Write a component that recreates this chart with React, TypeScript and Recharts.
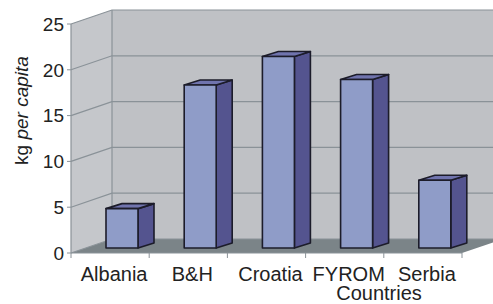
import React from 'react';
import { BarChart, Bar, XAxis, YAxis, CartesianGrid } from 'recharts';

// Data
const countries = ['Albania', 'B&H', 'Croatia', 'FYROM', 'Serbia'];
const kgPerCapita = [4.3, 17.8, 20.9, 18.4, 7.4];
const yTicks = [0, 5, 10, 15, 20, 25];

const data = countries.map((name, i) => ({ name, value: kgPerCapita[i] }));

// Layout
const WIDTH = 493;
const HEIGHT = 304;
const LEFT = 71;
const TOP = 24;
const RIGHT = 462;
const BOTTOM = 253;
const DEPTH_X = 41;
const DEPTH_Y = 14;
const BAR_SHIFT_X = 12;
const BAR_SHIFT_Y = 5;
const BAR_DEPTH_X = 16;
const BAR_DEPTH_Y = 5;

const GRID = '#8a9298';
const TEXT = '#222';
const FONT = '"Liberation Sans", Arial, sans-serif';

const band = (RIGHT - LEFT) / countries.length;

// walls and floor behind the bars
const Walls = () => (
  <g>
    <polygon
      points={`${LEFT},${TOP} ${LEFT + DEPTH_X},${TOP - DEPTH_Y} ${LEFT + DEPTH_X},${BOTTOM - DEPTH_Y} ${LEFT},${BOTTOM}`}
      fill="#c5c7cb"
    />
    <rect
      x={LEFT + DEPTH_X}
      y={TOP - DEPTH_Y}
      width={RIGHT - LEFT}
      height={BOTTOM - TOP}
      fill="#bfc1c5"
    />
    <polygon
      points={`${LEFT},${BOTTOM} ${LEFT + DEPTH_X},${BOTTOM - DEPTH_Y} ${RIGHT + DEPTH_X},${BOTTOM - DEPTH_Y} ${RIGHT},${BOTTOM}`}
      fill="#7b8488"
    />
    <line
      x1={LEFT + DEPTH_X}
      y1={TOP - DEPTH_Y}
      x2={LEFT + DEPTH_X}
      y2={BOTTOM - DEPTH_Y}
      stroke={GRID}
      strokeWidth={1.2}
    />
  </g>
);

// each grid line runs along the side wall and then across the back wall
const gridLine = (props: any) => {
  const { x1, y1, x2, index } = props;
  return (
    <g key={`grid-${index}`}>
      {index === 0 && <Walls />}
      <polyline
        points={`${x1},${y1} ${x1 + DEPTH_X},${y1 - DEPTH_Y} ${x2 + DEPTH_X},${y1 - DEPTH_Y}`}
        fill="none"
        stroke={GRID}
        strokeWidth={1.2}
      />
    </g>
  );
};

const Bar3D = (props: any) => {
  const { x, y, width, height } = props;
  const fx = x + BAR_SHIFT_X;
  const top = y - BAR_SHIFT_Y;
  const bottom = y + height - BAR_SHIFT_Y;
  const r = fx + width;
  return (
    <g stroke="#1c1c2a" strokeWidth={1.6} strokeLinejoin="round">
      <polygon
        points={`${r},${top} ${r + BAR_DEPTH_X},${top - BAR_DEPTH_Y} ${r + BAR_DEPTH_X},${bottom - BAR_DEPTH_Y} ${r},${bottom}`}
        fill="#54548f"
      />
      <polygon
        points={`${fx},${top} ${fx + BAR_DEPTH_X},${top - BAR_DEPTH_Y} ${r + BAR_DEPTH_X},${top - BAR_DEPTH_Y} ${r},${top}`}
        fill="#7074ae"
      />
      <rect x={fx} y={top} width={width} height={bottom - top} fill="#8f9cc8" />
    </g>
  );
};

const XTick = (props: any) => {
  const { x, payload, index } = props;
  return (
    <g>
      <line x1={x - band / 2} y1={BOTTOM} x2={x - band / 2} y2={BOTTOM + 5} stroke={GRID} />
      {index === countries.length - 1 && (
        <line x1={x + band / 2} y1={BOTTOM} x2={x + band / 2} y2={BOTTOM + 5} stroke={GRID} />
      )}
      <text x={x + 4} y={BOTTOM + 28} textAnchor="middle" fontSize={20} fill={TEXT} fontFamily={FONT}>
        {payload.value}
      </text>
    </g>
  );
};

const YLabel = (props: any) => {
  const vb = props.viewBox || { x: 0, y: TOP, width: LEFT, height: BOTTOM - TOP };
  const cx = vb.x + 21;
  const cy = vb.y + vb.height / 2 - 28;
  return (
    <text
      x={cx}
      y={cy}
      transform={`rotate(-90, ${cx}, ${cy})`}
      textAnchor="middle"
      dominantBaseline="central"
      fontSize={19}
      fill={TEXT}
      fontFamily={FONT}
    >
      kg <tspan fontStyle="italic">per capita</tspan>
    </text>
  );
};

const XLabel = () => (
  <text x={RIGHT - 83} y={HEIGHT - 4} textAnchor="middle" fontSize={20} fill={TEXT} fontFamily={FONT}>
    Countries
  </text>
);

export default function App() {
  return (
    <div style={{ width: WIDTH, height: HEIGHT, background: '#fff' }}>
      <style>{`body { margin: 0; }`}</style>
      <BarChart
        width={WIDTH}
        height={HEIGHT}
        data={data}
        margin={{ top: TOP, right: WIDTH - RIGHT, bottom: 0, left: 0 }}
        barCategoryGap={0}
      >
        <CartesianGrid vertical={false} horizontal={gridLine} />
        <XAxis
          dataKey="name"
          height={HEIGHT - BOTTOM}
          axisLine={{ stroke: GRID }}
          tickLine={false}
          tick={<XTick />}
          interval={0}
          label={{ content: <XLabel /> }}
        />
        <YAxis
          width={LEFT}
          domain={[0, 25]}
          ticks={yTicks}
          tickSize={4}
          tickMargin={3}
          axisLine={{ stroke: GRID, strokeWidth: 1.2 }}
          tickLine={{ stroke: GRID }}
          tick={{ fontSize: 19, fill: TEXT, fontFamily: FONT }}
          label={{ content: <YLabel /> }}
        />
        <Bar dataKey="value" barSize={32} isAnimationActive={false} shape={<Bar3D />} />
      </BarChart>
    </div>
  );
}
